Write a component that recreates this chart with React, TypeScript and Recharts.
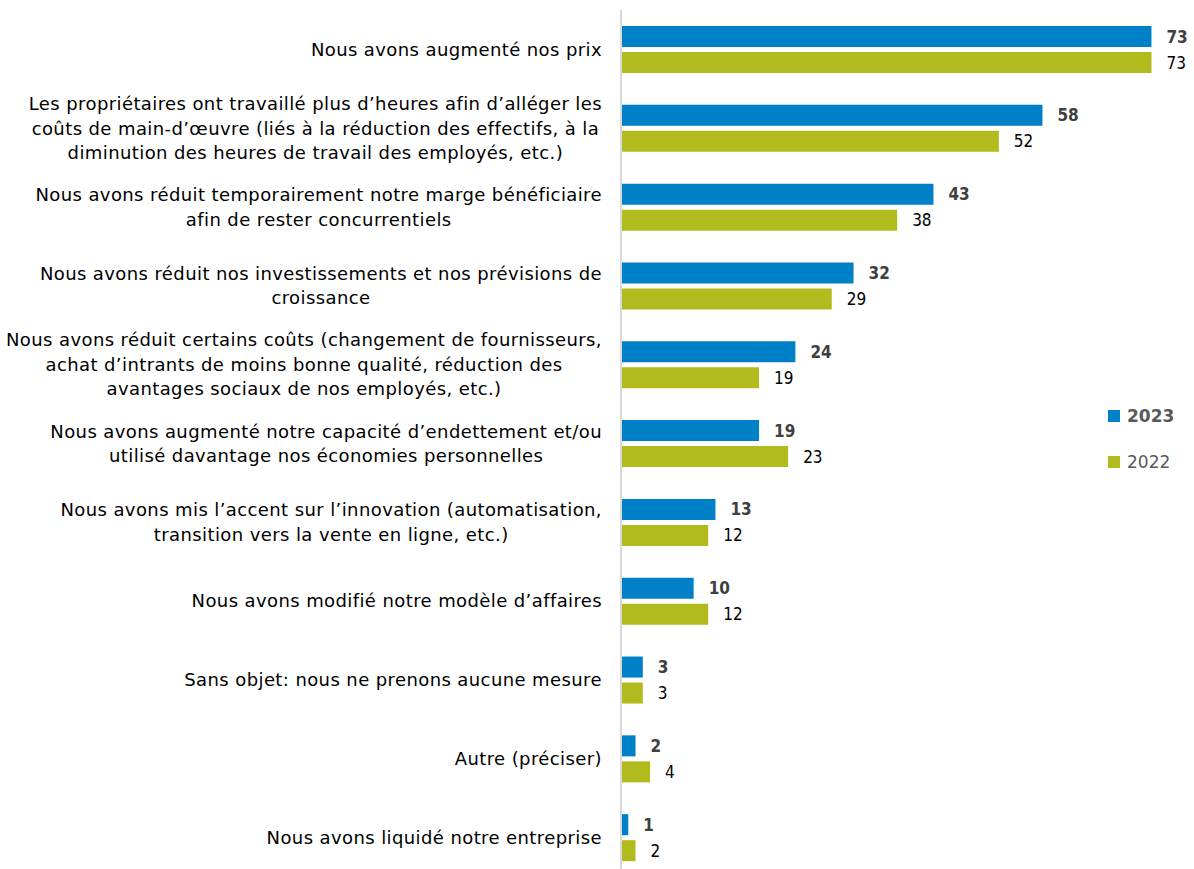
import React from 'react';
import { BarChart, Bar, XAxis, YAxis, LabelList, Legend } from 'recharts';

const categories: string[] = [
  'Nous avons augmenté nos prix',
  'Les propriétaires ont travaillé plus d’heures afin d’alléger les\ncoûts de main-d’œuvre (liés à la réduction des effectifs, à la\ndiminution des heures de travail des employés, etc.)',
  'Nous avons réduit temporairement notre marge bénéficiaire\nafin de rester concurrentiels',
  'Nous avons réduit nos investissements et nos prévisions de\ncroissance',
  'Nous avons réduit certains coûts (changement de fournisseurs,\nachat d’intrants de moins bonne qualité, réduction des\navantages sociaux de nos employés, etc.)',
  'Nous avons augmenté notre capacité d’endettement et/ou\nutilisé davantage nos économies personnelles',
  'Nous avons mis l’accent sur l’innovation (automatisation,\ntransition vers la vente en ligne, etc.)',
  'Nous avons modifié notre modèle d’affaires',
  'Sans objet: nous ne prenons aucune mesure',
  'Autre (préciser)',
  'Nous avons liquidé notre entreprise',
];
const values2023: number[] = [73, 58, 43, 32, 24, 19, 13, 10, 3, 2, 1];
const values2022: number[] = [73, 52, 38, 29, 19, 23, 12, 12, 3, 4, 2];
const seriesNames: string[] = ['2023', '2022'];

const CAT_FONT = '"DejaVu Sans", sans-serif';
const CAT_FS = 18;
const CAT_LS = 0.4;
const LBL_FONT = '"DejaVu Sans Condensed", "DejaVu Sans", sans-serif';
const LBL_FS = 17;
const BLUE = '#0080C6';
const OLIVE = '#B2BB1E';

const data = categories.map((c, i) => ({ cat: c, v2023: values2023[i], v2022: values2022[i] }));

let ctx: CanvasRenderingContext2D | null = null;
function measure(s: string): number {
  if (!ctx) {
    const cv = document.createElement('canvas');
    ctx = cv.getContext('2d');
  }
  if (!ctx) return s.length * 9.5;
  ctx.font = `${CAT_FS}px ${CAT_FONT}`;
  return ctx.measureText(s).width + s.length * CAT_LS;
}

const CatTick = (props: any) => {
  const { x, y, payload } = props;
  const lines: string[] = String(payload.value).split('\n');
  const maxW = Math.max(...lines.map(measure));
  const right = x;
  const cx = right - maxW / 2;
  const lh = 24.5;
  const y0 = y - ((lines.length - 1) * lh) / 2;
  return (
    <text fontFamily={CAT_FONT} fontSize={CAT_FS} letterSpacing={CAT_LS} fill="#000" textAnchor="middle">
      {lines.map((l, i) => (
        <tspan key={i} x={cx} y={y0 + i * lh} dy="0.35em">{l}</tspan>
      ))}
    </text>
  );
};

const LegendContent = () => (
  <div style={{ fontFamily: CAT_FONT, fontSize: 17, color: '#595959' }}>
    {seriesNames.map((n, i) => (
      <div key={n} style={{ display: 'flex', alignItems: 'center', height: 24, marginBottom: i === 0 ? 22 : 0 }}>
        <span style={{ display: 'inline-block', width: 12, height: 12, background: i === 0 ? BLUE : OLIVE, marginRight: 7 }} />
        <span style={{ fontWeight: i === 0 ? 'bold' : 'normal' }}>{n}</span>
      </div>
    ))}
  </div>
);

export default function App() {
  return (
    <div style={{ position: 'absolute', left: 0, top: 0, width: 1194, height: 869, overflow: 'hidden', background: '#fff' }}>
      <BarChart
        width={1194}
        height={880}
        data={data}
        layout="vertical"
        margin={{ top: 10, right: 28, bottom: 3, left: 0 }}
        barSize={21}
        barGap={5}
      >
        <XAxis type="number" domain={[0, 75]} hide />
        <YAxis
          type="category"
          dataKey="cat"
          width={621}
          axisLine={{ stroke: '#D9D9D9', strokeWidth: 2 }}
          tickLine={false}
          tickSize={0}
          tickMargin={19}
          tick={<CatTick />}
          interval={0}
        />
        <Legend
          layout="vertical"
          align="center"
          verticalAlign="middle"
          content={<LegendContent />}
          wrapperStyle={{ position: 'absolute', left: 1108, top: 404, width: 86 }}
        />
        <Bar dataKey="v2023" name="2023" fill={BLUE} isAnimationActive={false}>
          <LabelList dataKey="v2023" position="right" offset={15} fill="#404040" fontWeight="bold" fontFamily={LBL_FONT} fontSize={LBL_FS} />
        </Bar>
        <Bar dataKey="v2022" name="2022" fill={OLIVE} isAnimationActive={false}>
          <LabelList dataKey="v2022" position="right" offset={15} fill="#000" fontFamily={LBL_FONT} fontSize={LBL_FS} />
        </Bar>
      </BarChart>
    </div>
  );
}
